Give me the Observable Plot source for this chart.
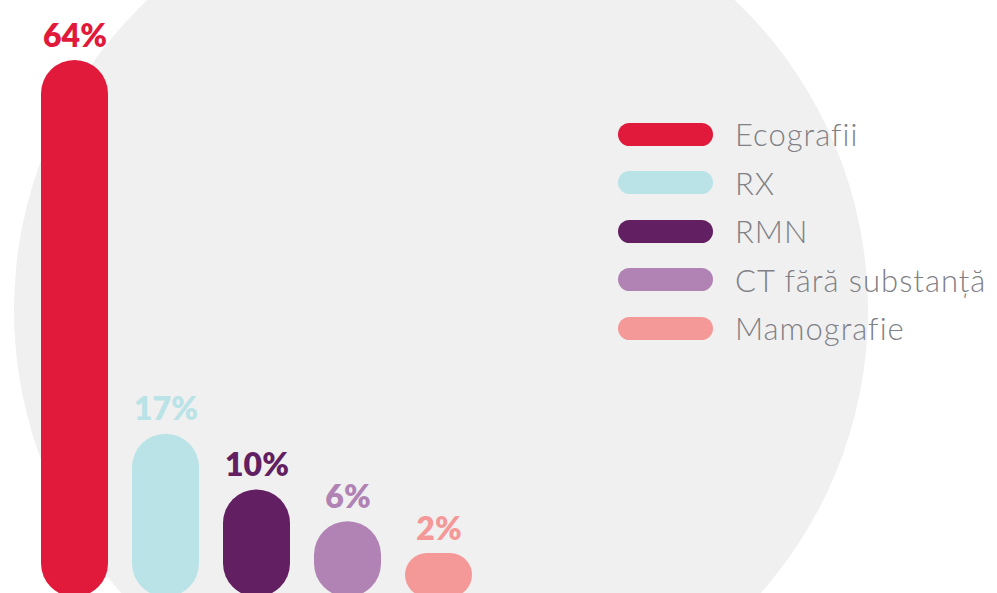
<!DOCTYPE html>
<html><head><meta charset="utf-8">
<script src="https://cdn.jsdelivr.net/npm/d3@7"></script>
<script src="https://cdn.jsdelivr.net/npm/@observablehq/plot@0.6"></script>
<style>
html,body{margin:0;padding:0;background:#fff;overflow:hidden}
#wrap{position:relative;width:997px;height:593px;overflow:hidden;font-family:Lato,"Open Sans",sans-serif}
#bg{position:absolute;left:14px;top:-117px;width:854px;height:854px;border-radius:50%;background:#f0f0f0}
#chart{position:absolute;left:0;top:0}
#legend{position:absolute;left:618px;top:110px}
.item{display:flex;align-items:center;height:48.5px}
.sw{width:95px;height:23px;border-radius:11.5px;flex:none}
.lab{margin-left:22px;font-size:31px;color:#808086;white-space:nowrap;font-weight:300;letter-spacing:1px}
</style>
</head><body>
<div id="wrap"><div id="bg"></div><div id="chart"></div><div id="legend"></div></div>
<script>
const categories = ["Ecografii", "RX", "RMN", "CT fără substanță", "Mamografie"];
const values = [64, 17, 10, 6, 2];
const valueLabels = ["64%", "17%", "10%", "6%", "2%"];
const colors = ["#E1193A", "#BAE3E7", "#621F61", "#B182B4", "#F59898"];
const barBase = -3.5;

const data = categories.map((c, i) => ({cat: c, value: values[i], label: valueLabels[i]}));

const chart = Plot.plot({
  width: 997,
  height: 593,
  margin: 0,
  style: {background: "transparent", fontFamily: "Lato, 'Open Sans', sans-serif", overflow: "visible"},
  x: {domain: categories, range: [15.5, 497.5], padding: 0.268, axis: null},
  y: {domain: [0, 64], range: [569, 60], axis: null},
  color: {domain: categories, range: colors},
  marks: [
    Plot.barY(data, {x: "cat", y1: () => barBase, y2: "value", fill: "cat", rx: 33.5}),
    Plot.text(data, {x: "cat", y: "value", text: "label", fill: "cat", dy: -14, lineAnchor: "bottom", fontSize: 32, fontWeight: 800})
  ]
});
chart.querySelectorAll('g[aria-label="bar"] rect').forEach(r => {
  const w = +r.getAttribute("width"), h = +r.getAttribute("height");
  const rr = Math.min(w, h) / 2;
  r.setAttribute("rx", rr);
  r.setAttribute("ry", rr);
});
document.getElementById("chart").appendChild(chart);

const legend = document.getElementById("legend");
categories.forEach((c, i) => {
  const item = document.createElement("div");
  item.className = "item";
  const sw = document.createElement("div");
  sw.className = "sw";
  sw.style.background = colors[i];
  const lab = document.createElement("span");
  lab.className = "lab";
  lab.textContent = c;
  item.appendChild(sw);
  item.appendChild(lab);
  legend.appendChild(item);
});
</script>
</body></html>
